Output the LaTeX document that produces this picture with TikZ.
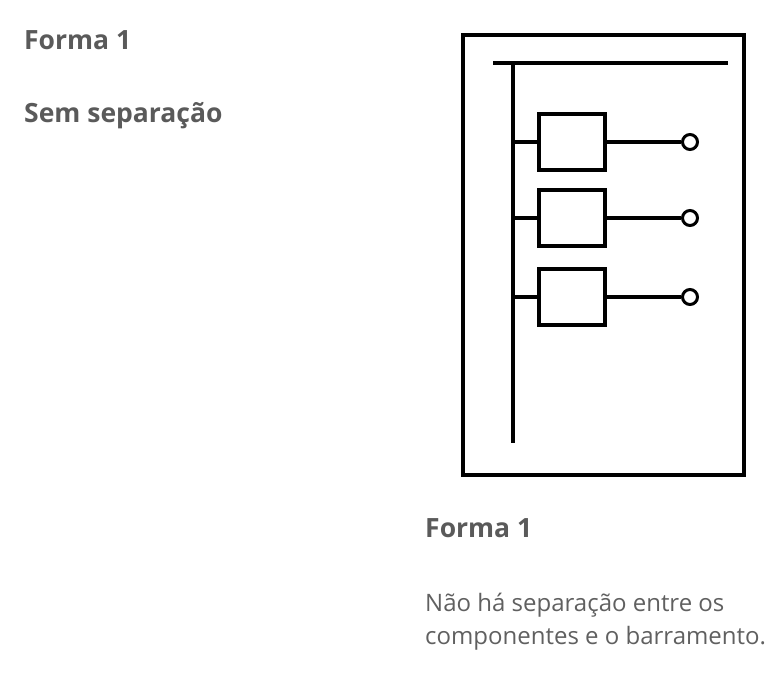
\documentclass[tikz,border=0pt]{standalone}
\usepackage{fontspec}
\setmainfont{Open Sans}
\definecolor{txt}{HTML}{5A5A5A}
\definecolor{bodytxt}{HTML}{606060}
\begin{document}
\begin{tikzpicture}[x=1pt,y=-1pt,
  heading/.style={anchor=base west,inner sep=0pt,text=txt,font=\fontsize{26.5}{30}\selectfont\bfseries},
  body/.style={anchor=base west,inner sep=0pt,text=bodytxt,font=\fontsize{24}{30}\selectfont},
  wire/.style={line width=3.5pt},
  comp/.style={draw,line width=3.5pt,minimum width=66pt,minimum height=56pt,inner sep=0pt},
  term/.style={draw,circle,line width=3pt,minimum size=15pt,inner sep=0pt,fill=white}]
\useasboundingbox (0,0) rectangle (783,686);
\node[heading] (t1) at (24,49) {Forma 1};
\node[heading] (t2) at (24,122) {Sem separação};
\node[draw,line width=4pt,minimum width=281pt,minimum height=440pt,inner sep=0pt] (frame) at (603,255) {};
\coordinate (hbL) at (493,63);
\coordinate (hbR) at (728,63);
\coordinate (vbT) at (513,63);
\coordinate (vbB) at (513,443);
\draw[wire] (hbL) -- (hbR);
\draw[wire] (vbT) -- (vbB);
\foreach \i/\yy in {1/142,2/218,3/297}{
  \node[comp] (c\i) at (572,\yy) {};
  \node[term] (o\i) at (690,\yy) {};
  \coordinate (s\i) at (513,\yy);
  \draw[wire] (s\i) -- (c\i.west);
  \draw[wire] (c\i.east) -- (o\i.west);
}
\node[heading] (t3) at (425,537) {Forma 1};
\node[body] (t4) at (425,611) {Não há separação entre os};
\node[body] (t5) at (425,644) {componentes e o barramento.};
\end{tikzpicture}
\end{document}
